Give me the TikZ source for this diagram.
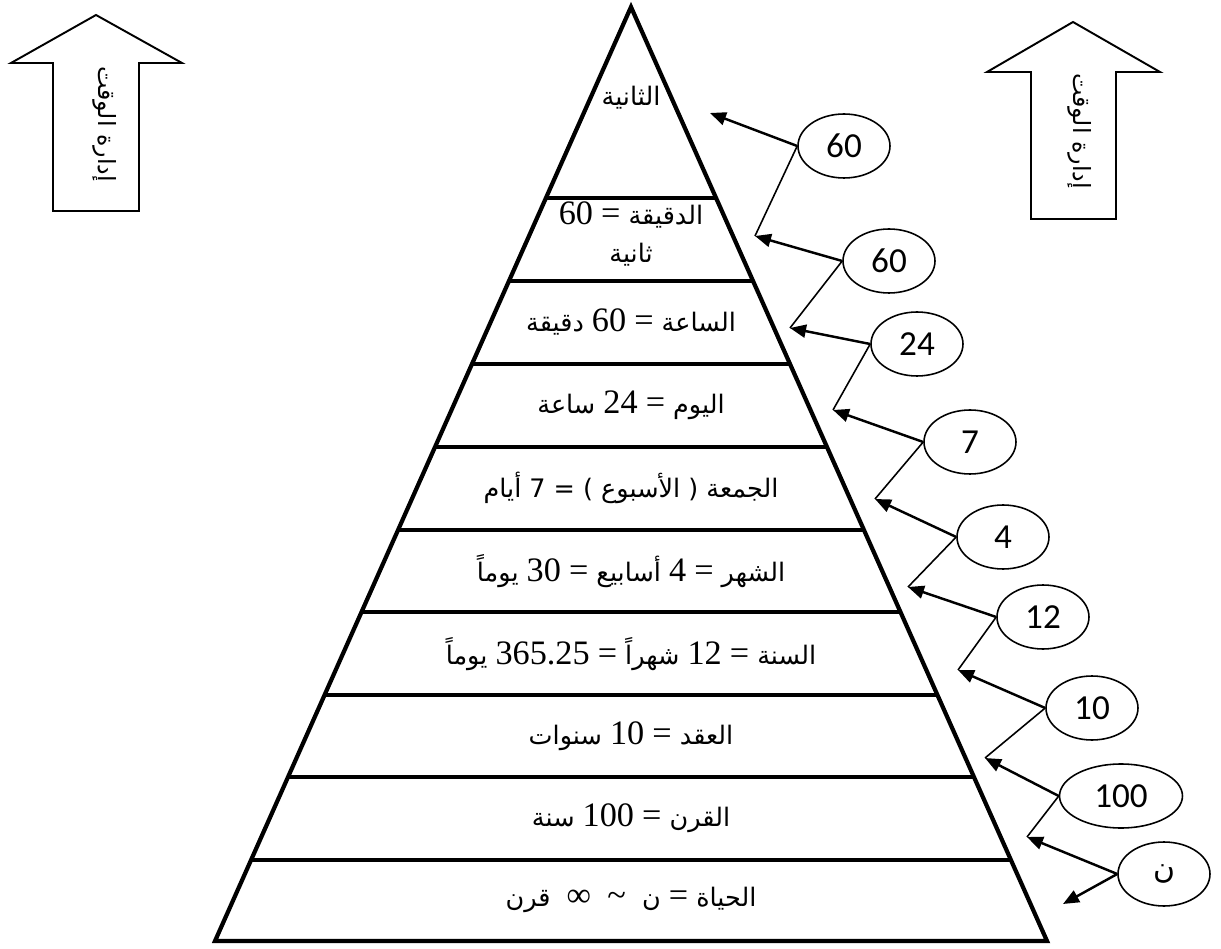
\documentclass[tikz,border=0pt]{standalone}
\usepackage{fontspec}
\usetikzlibrary{shapes, arrows.meta, calc, positioning}
\TeXXeTstate=1
\newfontfamily\arabicfont[Script=Arabic]{DejaVu Sans}
\newfontfamily\latinfont{Liberation Serif}
\newfontfamily\bubblefont{Carlito}
\newcommand{\lnum}[1]{{\latinfont\fontsize{19.5}{22}\selectfont\beginL #1\endL}}
\tikzset{pyramidline/.style={line width=2.4pt, line join=miter}}
\tikzset{pointer/.style={-{Triangle[length=0.32cm, width=0.26cm]}, line width=1.4pt}}
\tikzset{feedline/.style={line width=0.9pt}}
\tikzset{numbubble/.style={ellipse, draw, line width=0.9pt, minimum width=1.84cm, minimum height=1.28cm, inner sep=0pt, font=\bubblefont\fontsize{20}{24}\selectfont}}
\tikzset{tagarrow/.style={line width=1.1pt, line join=miter}}
\tikzset{layertext/.style={font=\arabicfont\fontsize{14.5}{22}\selectfont, align=center}}
\tikzset{tagtext/.style={font=\arabicfont\fontsize{13.5}{16}\selectfont}}

\begin{document}
\begin{tikzpicture}[x=0.02cm, y=-0.02cm]
\useasboundingbox (0,0) rectangle (1221,949);

\coordinate (Apex) at (631,7);
\coordinate (BaseL) at (215,941);
\coordinate (BaseR) at (1047,941);
\draw[pyramidline] (BaseL) -- (Apex) -- (BaseR) -- cycle;
\foreach \y in {198, 281, 364, 447, 530, 612, 695, 777, 860}{
    \pgfmathsetmacro{\f}{(\y-7)/934}
    \draw[pyramidline] ($(Apex)!\f!(BaseL)$) -- ($(Apex)!\f!(BaseR)$);
}

\node[layertext] (L1) at (631,98) {\beginR الثانية\endR};
\node[layertext] (L2) at (631,234) {\beginR الدقيقة \lnum{=} \lnum{60}\endR\\\beginR ثانية\endR};
\node[layertext] (L3) at (631,322) {\beginR الساعة \lnum{=} \lnum{60} دقيقة\endR};
\node[layertext] (L4) at (631,405) {\beginR اليوم \lnum{=} \lnum{24} ساعة\endR};
\node[layertext] (L5) at (631,488) {\beginR الجمعة ( الأسبوع ) = 7 أيام\endR};
\node[layertext] (L6) at (631,571) {\beginR الشهر \lnum{=} \lnum{4} أسابيع \lnum{=} \lnum{30} يوماً\endR};
\node[layertext] (L7) at (631,654) {\beginR السنة \lnum{=} \lnum{12} شهراً \lnum{=} \lnum{365.25} يوماً\endR};
\node[layertext] (L8) at (631,736) {\beginR العقد \lnum{=} \lnum{10} سنوات\endR};
\node[layertext] (L9) at (631,818) {\beginR القرن \lnum{=} \lnum{100} سنة\endR};
\node[layertext] (L10) at (631,900) {\beginR الحياة \lnum{=} ن \ \lnum{\char"7E} \ \lnum{∞} \ قرن\endR};

\draw[tagarrow] (96,15) -- (182,63) -- (139,63) -- (139,211) -- (53,211) -- (53,63) -- (11,63) -- cycle;
\node[tagtext, rotate=-90] (TagL) at (105,124) {\beginR إدارة الوقت\endR};
\draw[tagarrow] (1073,22) -- (1160,72) -- (1116,72) -- (1116,219) -- (1031,219) -- (1031,72) -- (987,72) -- cycle;
\node[tagtext, rotate=-90] (TagR) at (1080,131) {\beginR إدارة الوقت\endR};

\node[numbubble] (E1) at (844,146) {60};
\node[numbubble] (E2) at (889,261) {60};
\node[numbubble] (E3) at (917,344) {24};
\node[numbubble] (E4) at (970,442) {7};
\node[numbubble] (E5) at (1003,537) {4};
\node[numbubble] (E6) at (1043,617) {12};
\node[numbubble] (E7) at (1092,708) {10};
\node[numbubble, minimum width=2.46cm] (E8) at (1121,796) {100};
\node[numbubble, font=\arabicfont\fontsize{17}{20}\selectfont] (E9) at (1164,874) {ن};

\coordinate (T1) at (710,113);
\coordinate (T2) at (755,236);
\coordinate (T3) at (790,328);
\coordinate (T4) at (833,410);
\coordinate (T5) at (875,499);
\coordinate (T6) at (908,587);
\coordinate (T7) at (958,670);
\coordinate (T8) at (985,758);
\coordinate (T9) at (1027,837);
\coordinate (T10) at (1063,904);

\foreach \k [evaluate=\k as \n using int(\k+1)] in {1,...,8}{
    \draw[pointer] (E\k.west) -- (T\k);
    \draw[feedline] (E\k.west) -- (T\n);
}
\draw[pointer] (E9.west) -- (T9);
\draw[pointer] (E9.west) -- (T10);

\end{tikzpicture}
\end{document}
